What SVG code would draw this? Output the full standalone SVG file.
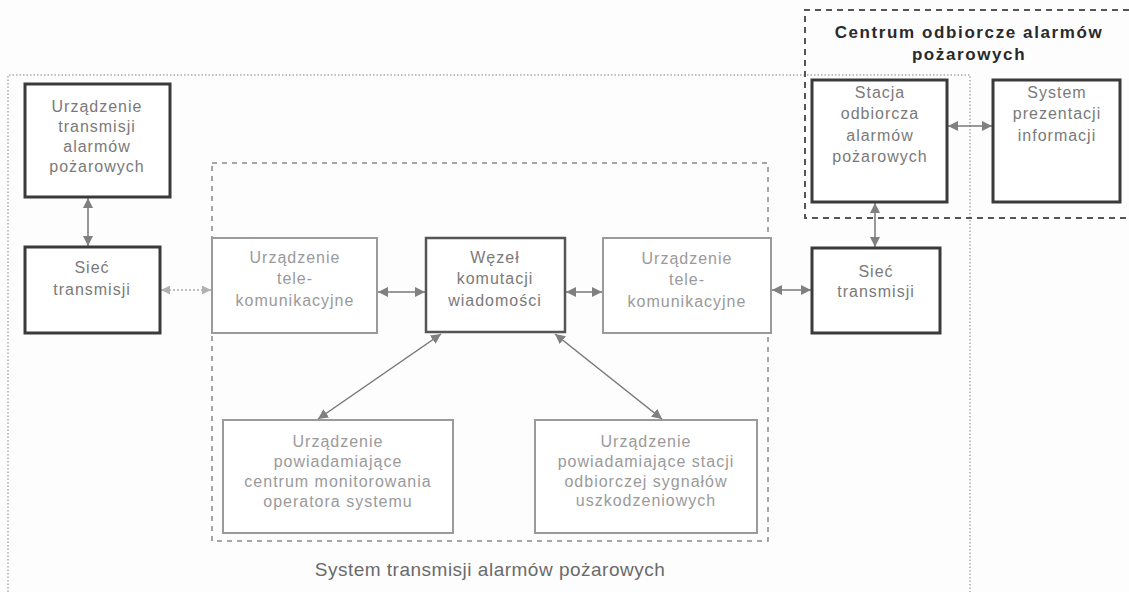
<svg xmlns="http://www.w3.org/2000/svg" width="1129" height="592" viewBox="0 0 1129 592">
<style>
.bg{fill:#fdfdfd}
.dark{fill:#fff;stroke:#3a3a3a;stroke-width:3}
.gray{fill:#fff;stroke:#9a9a9a;stroke-width:2}
.mid{fill:#fff;stroke:#555;stroke-width:2.5}
.t{font-family:"Liberation Sans",Arial,sans-serif;font-size:16px;letter-spacing:1px;fill:#7a7a7a;text-anchor:middle}
.tl{fill:#9a9a9a}
.title{font-family:"Liberation Sans",Arial,sans-serif;font-size:17px;font-weight:bold;letter-spacing:1.6px;fill:#2a2a2a;text-anchor:middle}
.cap{font-family:"Liberation Sans",Arial,sans-serif;font-size:19px;letter-spacing:0.5px;fill:#6a6a6a;text-anchor:middle}
.outer{fill:none;stroke:#aaa;stroke-width:1.5;stroke-dasharray:1.5 2}
.inner{fill:none;stroke:#888;stroke-width:1.5;stroke-dasharray:5 5}
.cent{fill:none;stroke:#555;stroke-width:2;stroke-dasharray:6 5}
.c{fill:none;stroke:#777;stroke-width:1.5;marker-start:url(#ah);marker-end:url(#ah)}
.cl{fill:none;stroke:#aaa;stroke-width:1.5;stroke-dasharray:2 2;marker-start:url(#ahl);marker-end:url(#ahl)}
</style>
<defs>
<marker id="ah" viewBox="0 0 10 10" refX="10" refY="5" markerWidth="10" markerHeight="10" markerUnits="userSpaceOnUse" orient="auto-start-reverse">
<path d="M0,0 L10,5 L0,10 z" fill="#808080"/>
</marker>
<marker id="ahl" viewBox="0 0 10 10" refX="10" refY="5" markerWidth="9" markerHeight="9" markerUnits="userSpaceOnUse" orient="auto-start-reverse">
<path d="M0,0 L10,5 L0,10 z" fill="#b0b0b0"/>
</marker>
</defs>
<rect class="bg" x="0" y="0" width="1129" height="592"/>

<g id="boundaries">
<path class="outer" d="M8,592 V75 H970 V592"/>
<rect class="inner" x="212" y="163" width="556" height="378"/>
<path class="cent" d="M1129,10 H805 V218 H1129"/>
<text class="title" x="969" y="38">Centrum odbiorcze alarmów</text>
<text class="title" x="969" y="60">pożarowych</text>
<text class="cap" x="490" y="576">System transmisji alarmów pożarowych</text>
</g>

<g id="connectors">
<line class="c" x1="88" y1="198" x2="88" y2="246"/>
<line class="cl" x1="161" y1="290" x2="211" y2="290"/>
<line class="c" x1="378" y1="292" x2="425" y2="292"/>
<line class="c" x1="566" y1="292" x2="602" y2="292"/>
<line class="c" x1="772" y1="290" x2="811" y2="290"/>
<line class="c" x1="875" y1="203" x2="875" y2="247"/>
<line class="c" x1="948" y1="126" x2="992" y2="126"/>
<line class="c" x1="441" y1="334" x2="318" y2="419"/>
<line class="c" x1="555" y1="334" x2="662" y2="419"/>
</g>

<g id="n1">
<rect class="dark" x="25" y="84" width="145" height="113"/>
<text class="t" x="97" y="112">Urządzenie</text>
<text class="t" x="97" y="132">transmisji</text>
<text class="t" x="97" y="152">alarmów</text>
<text class="t" x="97" y="172">pożarowych</text>
</g>
<g id="n2">
<rect class="dark" x="25" y="247" width="135" height="86"/>
<text class="t" x="92" y="273">Sieć</text>
<text class="t" x="92" y="295">transmisji</text>
</g>
<g id="n3">
<rect class="gray" x="212" y="238" width="165" height="95"/>
<text class="t tl" x="295" y="263">Urządzenie</text>
<text class="t tl" x="295" y="284">tele-</text>
<text class="t tl" x="295" y="306">komunikacyjne</text>
</g>
<g id="n4">
<rect class="mid" x="426" y="238" width="139" height="94"/>
<text class="t" x="495" y="263">Węzeł</text>
<text class="t" x="495" y="284">komutacji</text>
<text class="t" x="495" y="306">wiadomości</text>
</g>
<g id="n5">
<rect class="gray" x="603" y="238" width="168" height="95"/>
<text class="t tl" x="687" y="264">Urządzenie</text>
<text class="t tl" x="687" y="285">tele-</text>
<text class="t tl" x="687" y="307">komunikacyjne</text>
</g>
<g id="n6">
<rect class="dark" x="812" y="248" width="128" height="85"/>
<text class="t" x="876" y="277">Sieć</text>
<text class="t" x="876" y="297">transmisji</text>
</g>
<g id="n7">
<rect class="dark" x="812" y="80" width="135" height="122"/>
<text class="t" x="880" y="98">Stacja</text>
<text class="t" x="880" y="119">odbiorcza</text>
<text class="t" x="880" y="141">alarmów</text>
<text class="t" x="880" y="162">pożarowych</text>
</g>
<g id="n8">
<rect class="dark" x="993" y="80" width="127" height="122"/>
<text class="t" x="1057" y="98">System</text>
<text class="t" x="1057" y="119">prezentacji</text>
<text class="t" x="1057" y="141">informacji</text>
</g>
<g id="n9">
<rect class="gray" x="223" y="420" width="230" height="113"/>
<text class="t tl" x="338" y="447">Urządzenie</text>
<text class="t tl" x="338" y="467">powiadamiające</text>
<text class="t tl" x="338" y="487">centrum monitorowania</text>
<text class="t tl" x="338" y="507">operatora systemu</text>
</g>
<g id="n10">
<rect class="gray" x="535" y="420" width="222" height="113"/>
<text class="t tl" x="646" y="447">Urządzenie</text>
<text class="t tl" x="646" y="467">powiadamiające stacji</text>
<text class="t tl" x="646" y="487">odbiorczej sygnałów</text>
<text class="t tl" x="646" y="506">uszkodzeniowych</text>
</g>
</svg>
